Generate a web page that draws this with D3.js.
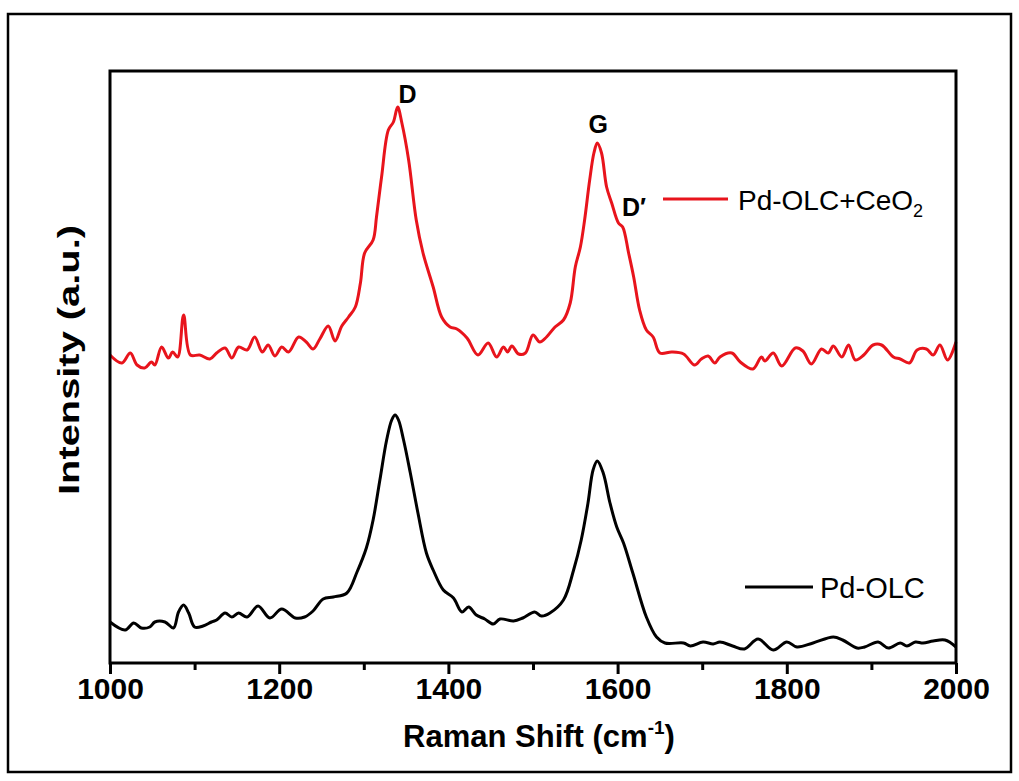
<!DOCTYPE html>
<html>
<head>
<meta charset="utf-8">
<script src="https://cdn.jsdelivr.net/npm/d3@7"></script>
<style>
  body { margin: 0; background: #fff; }
  svg text { font-family: "Liberation Sans", Arial, sans-serif; }
</style>
</head>
<body>
<svg id="chart" width="1019" height="781"></svg>
<script>
// Raman shift (cm-1) and intensity (a.u.)
var ceriaShift = [1000,1014,1024,1032,1041,1049,1053,1061,1069,1074,1080,1087,1095,1106,1118,1126,1136,1144,1152,1162,1171,1180,1187,1195,1203,1211,1223,1232,1240,1248,1258,1266,1274,1282,1290,1296,1301,1311,1315,1321,1329,1335,1340,1345,1353,1362,1370,1382,1392,1402,1410,1422,1435,1447,1457,1465,1470,1475,1483,1491,1500,1508,1516,1526,1536,1544,1550,1556,1561,1567,1572,1576,1581,1587,1593,1601,1606,1613,1619,1626,1634,1642,1650,1664,1678,1691,1699,1707,1715,1721,1735,1745,1760,1770,1774,1784,1794,1810,1819,1829,1841,1849,1855,1865,1873,1881,1891,1902,1912,1926,1934,1945,1954,1965,1973,1981,1990,2000];
var ceriaInt = [308,300,310,298,295,301,298,316,305,311,306,348,308,308,304,310,315,305,316,313,326,311,318,307,316,311,326,321,314,324,337,322,337,346,356,380,410,423,446,486,533,541,556,540,503,443,410,376,346,336,334,325,308,320,306,316,311,317,309,310,328,321,326,336,343,360,396,416,443,483,510,520,510,476,460,440,436,410,386,353,333,326,310,311,309,298,304,307,300,306,310,301,294,306,302,310,297,315,312,299,314,310,317,306,318,303,308,318,318,306,304,300,313,314,308,318,303,321];

var olcShift = [1000,1018,1028,1037,1047,1053,1065,1075,1081,1087,1093,1100,1110,1120,1126,1136,1144,1152,1162,1175,1189,1203,1219,1230,1240,1252,1264,1280,1292,1303,1311,1319,1327,1333,1337,1341,1347,1355,1364,1374,1382,1394,1406,1416,1424,1433,1443,1453,1461,1477,1488,1502,1510,1520,1536,1548,1557,1565,1571,1576,1583,1591,1599,1607,1618,1634,1646,1656,1678,1686,1701,1713,1721,1736,1750,1766,1784,1800,1812,1831,1855,1866,1883,1892,1908,1920,1934,1942,1952,1961,1973,1987,2000];
var olcInt = [41,33,40,35,36,41,41,35,51,58,50,36,37,41,43,50,46,50,46,57,45,54,45,46,52,64,66,70,91,115,143,183,223,243,248,243,223,190,150,110,93,73,65,51,56,48,44,39,44,42,45,51,47,50,63,93,123,160,193,202,190,160,136,120,90,46,26,20,20,17,21,19,21,17,14,24,13,21,16,20,26,23,15,16,21,15,20,17,21,20,22,23,16];

var xTicks = [1000,1200,1400,1600,1800,2000];
var xMinor = [1100,1300,1500,1700,1900];
var seriesNames = ["Pd-OLC+CeO", "Pd-OLC"];
var peakNames = ["D", "G", "D\u2032"];
var peakShift = [1341, 1577, 1610];

(function () {
  var svg = d3.select('#chart');

  // outer frame
  svg.append('rect')
    .attr('x', 8).attr('y', 14)
    .attr('width', 1003).attr('height', 758)
    .attr('fill', 'none').attr('stroke', '#000').attr('stroke-width', 2.5);

  var m = {left: 110, top: 71, right: 956, bottom: 663};

  var x = d3.scaleLinear().domain([1000, 2000]).range([m.left, m.right]);
  var y = d3.scaleLinear().domain([0, 592]).range([m.bottom, m.top]);

  var line = d3.line()
    .x(function(d) { return x(d[0]); })
    .y(function(d) { return y(d[1]); })
    .curve(d3.curveCatmullRom.alpha(0.5));

  var red = d3.zip(ceriaShift, ceriaInt);
  var black = d3.zip(olcShift, olcInt);

  svg.append('path').datum(black)
    .attr('d', line)
    .attr('fill', 'none').attr('stroke', '#000').attr('stroke-width', 3)
    .attr('stroke-linejoin', 'round');

  svg.append('path').datum(red)
    .attr('d', line)
    .attr('fill', 'none').attr('stroke', '#e8141c').attr('stroke-width', 3)
    .attr('stroke-linejoin', 'round');

  // plot box
  svg.append('rect')
    .attr('x', m.left).attr('y', m.top)
    .attr('width', m.right - m.left).attr('height', m.bottom - m.top)
    .attr('fill', 'none').attr('stroke', '#000').attr('stroke-width', 3);

  // bottom axis, major and minor ticks
  var gx = svg.append('g').attr('transform', 'translate(0,' + m.bottom + ')')
    .call(d3.axisBottom(x).tickValues(xTicks).tickSize(11).tickPadding(4).tickFormat(d3.format('d')));
  gx.select('.domain').remove();
  gx.selectAll('.tick line').attr('stroke', '#000').attr('stroke-width', 3);
  gx.selectAll('.tick text')
    .attr('font-size', 30).attr('font-weight', 'bold')
    .attr('font-family', '"Liberation Sans", Arial, sans-serif')
    .attr('fill', '#000');

  var gm = svg.append('g').attr('transform', 'translate(0,' + m.bottom + ')')
    .call(d3.axisBottom(x).tickValues(xMinor).tickSize(7).tickFormat(''));
  gm.select('.domain').remove();
  gm.selectAll('.tick line').attr('stroke', '#000').attr('stroke-width', 3);

  // axis titles
  var xt = svg.append('text')
    .attr('x', 539).attr('y', 747)
    .attr('text-anchor', 'middle')
    .attr('font-size', 31).attr('font-weight', 'bold');
  xt.append('tspan').text('Raman Shift (cm');
  xt.append('tspan').attr('font-size', 19).attr('dy', -13).text('-1');
  xt.append('tspan').attr('dy', 13).text(')');

  svg.append('text')
    .attr('transform', 'translate(79,360) rotate(-90)')
    .attr('text-anchor', 'middle')
    .attr('font-size', 30).attr('font-weight', 'bold')
    .attr('textLength', 270).attr('lengthAdjust', 'spacingAndGlyphs')
    .text('Intensity (a.u.)');

  // peak labels
  var peakY = [103, 133, 216];
  var peakDx = [9, 0, 8];
  svg.selectAll('text.peak')
    .data(peakNames)
    .enter()
    .append('text')
    .attr('class', 'peak')
    .attr('x', function(d, i) { return x(peakShift[i]) + peakDx[i]; })
    .attr('y', function(d, i) { return peakY[i]; })
    .attr('text-anchor', 'middle')
    .attr('font-family', '"Open Sans", sans-serif')
    .attr('font-size', 25).attr('font-weight', 'bold')
    .text(function(d) { return d; });

  // legend
  svg.append('line').attr('x1', 663).attr('x2', 728).attr('y1', 199).attr('y2', 199)
    .attr('stroke', '#e8141c').attr('stroke-width', 3);
  var lt = svg.append('text').attr('x', 738).attr('y', 210).attr('font-size', 28);
  lt.append('tspan').text(seriesNames[0]);
  lt.append('tspan').attr('font-size', 18).attr('dy', 7).text('2');

  svg.append('line').attr('x1', 745).attr('x2', 813).attr('y1', 587).attr('y2', 587)
    .attr('stroke', '#000').attr('stroke-width', 3);
  svg.append('text').attr('x', 820).attr('y', 598).attr('font-size', 29)
    .text(seriesNames[1]);
})();
</script>
</body>
</html>
